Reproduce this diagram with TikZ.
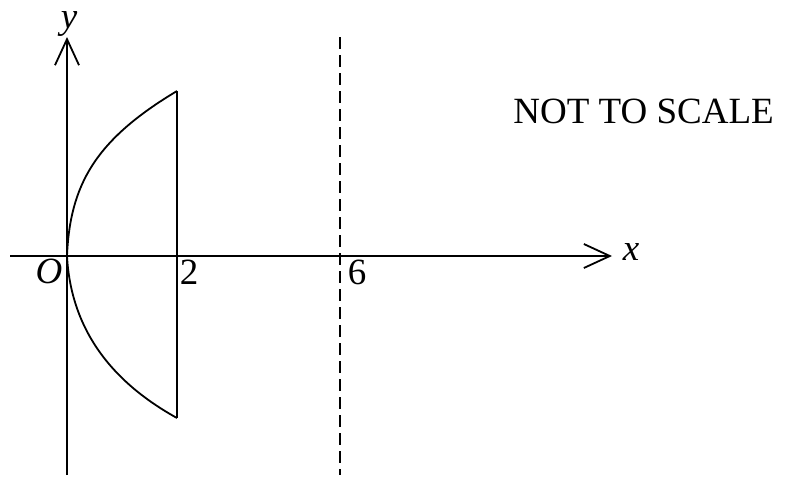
\documentclass[tikz,border=0pt]{standalone}
\usepackage{fontspec}
\setmainfont{Liberation Serif}
\usetikzlibrary{positioning, arrows.meta, calc}
\tikzset{
  axisline/.style={line width=0.9pt, -{Straight Barb[length=13pt,width=12pt,line width=0.9pt]}},
  edgeline/.style={line width=0.9pt},
  axislabel/.style={font=\fontsize{18.5}{18.5}\selectfont\itshape, inner sep=0pt},
  ticklabel/.style={font=\fontsize{18.5}{18.5}\selectfont, inner sep=0pt}
}

\begin{document}
\begin{tikzpicture}[x=0.5pt, y=-0.5pt]
                \useasboundingbox (0,0) rectangle (787,479);
                % Axes
                \coordinate (O) at (67,256);
                \coordinate (xstart) at (10,256);
                \coordinate (xend) at (612,256);
                \coordinate (ystart) at (67,475);
                \coordinate (yend) at (67,37);
                \draw[axisline] (xstart) -- (xend);
                \draw[axisline] (ystart) -- (yend);
                \node[axislabel] (xlab) at (631,252) {x};
                \node[axislabel] (ylab) at (69,24) {y};
                \node[axislabel] (olab) at (49,271) {O};

                % Region bounded by the curve and x = 2
                \coordinate (top) at (177,91);
                \coordinate (bot) at (177,418);
                \draw[edgeline] (top) -- (bot);
                \draw[edgeline] (O) .. controls (70,185) and (95,140) .. (top);
                \draw[edgeline] (O) .. controls (71,330) and (112,382) .. (bot);
                \node[ticklabel] (two) at (189,272) {2};

                % Line x = 6
                \coordinate (dtop) at (340,37);
                \coordinate (dbot) at (340,475);
                \draw[edgeline, dash pattern=on 6pt off 3pt, line width=0.6pt] (dtop) -- (dbot);
                \node[ticklabel] (six) at (357,272) {6};

                % Note
                \node[ticklabel, anchor=west] (note) at (513,111) {NOT TO SCALE};
            \end{tikzpicture}
\end{document}
